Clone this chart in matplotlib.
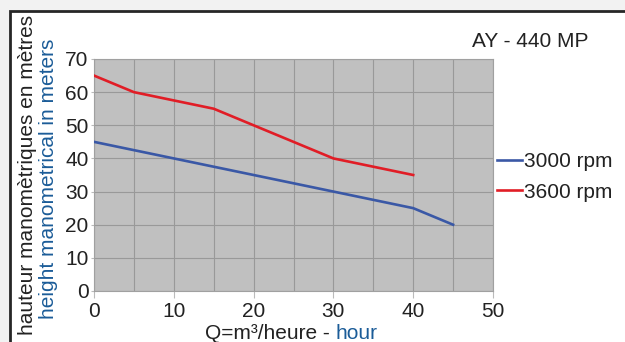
import matplotlib
matplotlib.use('Agg')
import matplotlib.pyplot as plt
from matplotlib.patches import Rectangle

plt.rcParams['font.family'] = ['Liberation Sans', 'DejaVu Sans']

# Data
Q_3000 = [0, 5, 10, 15, 20, 25, 30, 35, 40, 45]
H_3000 = [45, 42.5, 40, 37.5, 35, 32.5, 30, 27.5, 25, 20]
Q_3600 = [0, 5, 10, 15, 20, 25, 30, 35, 40]
H_3600 = [65, 60, 57.5, 55, 50, 45, 40, 37.5, 35]
XTICKS = [0, 10, 20, 30, 40, 50]
YTICKS = [0, 10, 20, 30, 40, 50, 60, 70]
TITLE = 'AY - 440 MP'
LABELS = ['3000 rpm', '3600 rpm']

BLUE = '#3a58a6'
RED = '#e11d26'
TXTBLUE = '#1b5c98'
W, H = 625, 342
FS = 15

fig = plt.figure(figsize=(W / 100, H / 100), dpi=100, facecolor='#f2f2f2')

# white panel with dark top/left frame
fig.patches.append(Rectangle((9.5 / W, -0.2), 1.2, 1.2 - 10.5 / H, transform=fig.transFigure,
                             facecolor='white', edgecolor='#262626', lw=2, zorder=-5))

ax = fig.add_axes([94 / W, 1 - 291 / H, 399 / W, 232 / H])
ax.set_facecolor('#c0c0c0')
ax.plot(Q_3000, H_3000, color=BLUE, lw=1.9, label=LABELS[0], zorder=3)
ax.plot(Q_3600, H_3600, color=RED, lw=1.9, label=LABELS[1], zorder=3)

ax.set_xlim(0, 50)
ax.set_ylim(0, 70)
ax.set_xticks(XTICKS)
ax.set_yticks(YTICKS)
ax.set_xticks(range(0, 51, 5), minor=True)
ax.grid(True, which='major', color='#999999', lw=0.8)
ax.grid(True, which='minor', axis='x', color='#999999', lw=0.8)
ax.tick_params(which='minor', length=0)
ax.tick_params(which='major', labelsize=FS, colors='#bbbbbb', labelcolor='#222222', length=5, width=0.8, pad=3)
ax.tick_params(axis='y', length=2.5, pad=1.5)
for s in ax.spines.values():
    s.set_color('#a0a0a0')
    s.set_linewidth(0.8)

fig.text(588 / W, 1 - 47 / H, TITLE, ha='right', va='baseline', fontsize=FS, color='#222222')

ax.legend(loc='center left', bbox_to_anchor=(497 / W, 1 - 177 / H), bbox_transform=fig.transFigure,
          frameon=False, fontsize=FS, handlelength=1.2, handletextpad=0.1, labelspacing=0.55,
          borderpad=0, borderaxespad=0, labelcolor='#222222')

fig.text(33 / W, 1 - 15 / H, 'hauteur manomètriques en mètres', rotation=90, rotation_mode='anchor',
         ha='right', va='baseline', fontsize=FS, color='#222222')
fig.text(54 / W, 1 - 39 / H, 'height manometrical in meters', rotation=90, rotation_mode='anchor',
         ha='right', va='baseline', fontsize=FS, color=TXTBLUE)

t1 = fig.text(205 / W, 1 - 339 / H, 'Q=m³/heure - ', ha='left', va='baseline', fontsize=FS, color='#222222')
r = fig.canvas.get_renderer()
bb = t1.get_window_extent(r)
fig.text(bb.x1 / W, 1 - 339 / H, 'hour', ha='left', va='baseline', fontsize=FS, color=TXTBLUE)

fig.savefig('out.png', dpi=100, facecolor=fig.get_facecolor())
